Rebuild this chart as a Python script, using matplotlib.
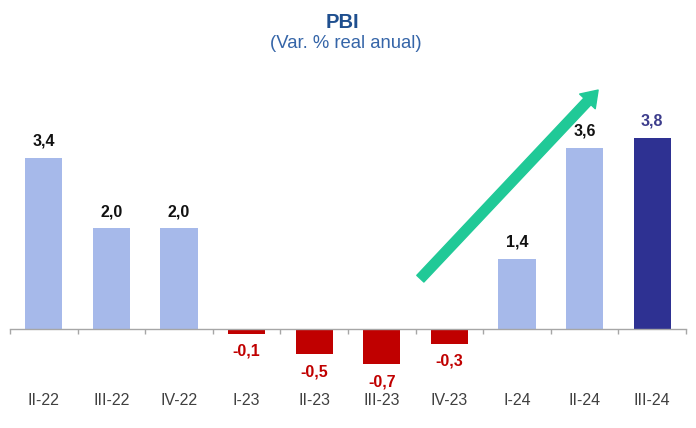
import matplotlib
matplotlib.use("Agg")
import matplotlib.pyplot as plt
from matplotlib.ticker import FixedLocator

plt.rcParams['font.family'] = ['Liberation Sans', 'DejaVu Sans']

categories = ["II-22", "III-22", "IV-22", "I-23", "II-23", "III-23", "IV-23", "I-24", "II-24", "III-24"]
values = [3.4, 2.0, 2.0, -0.1, -0.5, -0.7, -0.3, 1.4, 3.6, 3.8]
value_labels = ["3,4", "2,0", "2,0", "-0,1", "-0,5", "-0,7", "-0,3", "1,4", "3,6", "3,8"]
arrow_start = (5.57, 1.0)
arrow_end = (8.2, 4.75)

light = "#A6B9EA"
dark = "#2E3192"
red = "#C00000"

fig = plt.figure(figsize=(6.96, 4.28), dpi=100)
ax = fig.add_axes([10/696, 48/428, 676/696, 310/428])

x = list(range(len(categories)))
colors = []
for i, v in enumerate(values):
    if i == len(values) - 1:
        colors.append(dark)
    elif v < 0:
        colors.append(red)
    else:
        colors.append(light)

ax.bar(x, values, width=0.55, color=colors, zorder=2)

ax.set_xlim(-0.5, len(categories) - 0.5)
ax.set_ylim(-1.014, 5.149)

for s in ['top', 'right', 'left']:
    ax.spines[s].set_visible(False)
ax.spines['bottom'].set_position(('data', 0))
ax.spines['bottom'].set_color('#A6A6A6')
ax.spines['bottom'].set_linewidth(1.0)
ax.spines['bottom'].set_zorder(3)
ax.set_yticks([])

ax.set_xticks(x)
ax.set_xticklabels(categories, fontsize=11.5, color='#404040')
ax.tick_params(axis='x', which='major', length=0, pad=46)
ax.xaxis.set_minor_locator(FixedLocator([i - 0.5 for i in range(len(categories) + 1)]))
ax.tick_params(axis='x', which='minor', length=3.8, width=1.0, color='#A6A6A6', direction='out')

for i, (v, lab) in enumerate(zip(values, value_labels)):
    if v >= 0:
        col = '#3C3C8C' if i == len(values) - 1 else '#111111'
        ax.annotate(lab, (i, v), xytext=(0, 12), textcoords='offset points',
                    ha='center', va='center', fontsize=11.5, fontweight='bold', color=col)
    else:
        ax.annotate(lab, (i, v), xytext=(0, -12.5), textcoords='offset points',
                    ha='center', va='center', fontsize=11.5, fontweight='bold', color=red)

ax.annotate("", xy=arrow_end, xytext=arrow_start,
            arrowprops=dict(arrowstyle="simple,head_width=1.1,head_length=0.8,tail_width=0.5",
                            mutation_scale=14, color="#20C997", shrinkA=0, shrinkB=0),
            zorder=4)

fig.text(342/696, 1 - 23/428, "PBI", ha='center', va='center', fontsize=14.5,
         fontweight='bold', color='#1F4F8F')
fig.text(346/696, 1 - 44/428, "(Var. % real anual)", ha='center', va='center', fontsize=13.3,
         color='#3565A8')

fig.savefig("out.png", dpi=100)
